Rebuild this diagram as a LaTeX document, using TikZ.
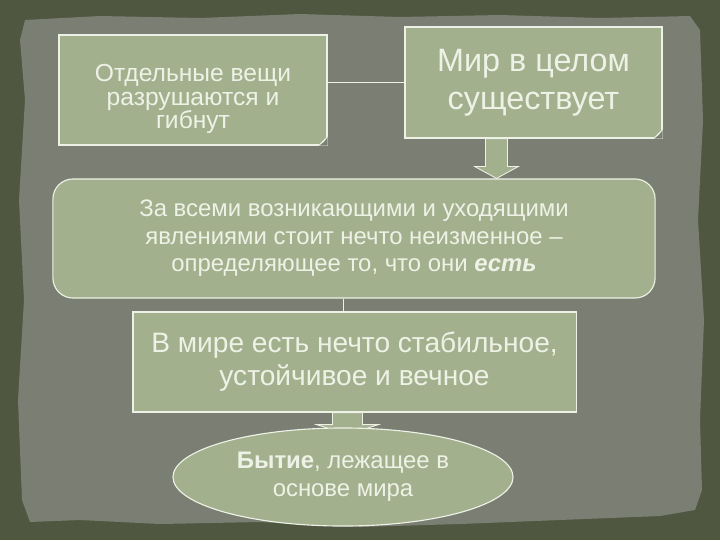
\documentclass[tikz,border=0pt]{standalone}
\usepackage{fontspec}
\setmainfont{Liberation Sans}
\usetikzlibrary{calc,shapes.geometric}
\definecolor{rahmen}{HTML}{4F5741}
\definecolor{papier}{HTML}{7B7E72}
\definecolor{kasten}{HTML}{A3B08E}
\definecolor{schrift}{HTML}{EEF2E6}
\tikzset{
  kastenbox/.style={draw=schrift, fill=kasten, line width=0.8pt, text=schrift,
    align=center, inner sep=0pt},
  verbinder/.style={draw=schrift, line width=0.6pt},
  blockpfeil/.style={draw=schrift, fill=kasten, line width=0.6pt},
}
\newcommand{\eselsohr}[1]{%
  \fill[papier] ($(#1.south east)+(-9,0)$) -- (#1.south east) -- ($(#1.south east)+(0,-9)$) -- cycle;
  \draw[schrift, line width=0.5pt] ($(#1.south east)+(-9,0)$) -- ($(#1.south east)+(0,-9)$)
    -- ($(#1.south east)+(-4,-4)$) -- cycle;}
\begin{document}
\begin{tikzpicture}[x=0.025cm, y=-0.025cm]
  % Hintergrund
  \fill[rahmen] (0,0) rectangle (720,540);
  \fill[papier] (25,20) -- (100,16) -- (200,18) -- (300,14) -- (400,17) -- (500,15)
    -- (600,18) -- (690,16) -- (700,30) -- (703,120) -- (698,220) -- (704,320)
    -- (700,420) -- (702,490) -- (695,510) -- (660,516) -- (560,520) -- (460,524)
    -- (360,527) -- (260,522) -- (160,524) -- (80,520) -- (30,522) -- (22,500)
    -- (18,400) -- (24,300) -- (19,200) -- (25,100) -- (20,40) -- cycle;
  \useasboundingbox (0,0) rectangle (720,540);
  % Kaesten
  \node[kastenbox, minimum width=6.7cm, minimum height=2.75cm] (einzeln) at (193,90) {};
  \node[text=schrift, align=center, inner sep=0pt,
    font=\fontsize{17.5}{17}\selectfont] (einzelntext) at ($(einzeln)+(0,9)$)
    {Отдельные вещи\\разрушаются и\\гибнут};
  \node[kastenbox, minimum width=6.425cm, minimum height=2.775cm,
    font=\fontsize{23}{27}\selectfont] (welt) at (533.5,82.5)
    {Мир в целом\\существует};
  \node[kastenbox, rounded corners=0.5cm, minimum width=15.05cm, minimum height=2.975cm,
    font=\fontsize{17}{19.5}\selectfont] (hinter) at (354,238.5)
    {За всеми возникающими и уходящими\\
     явлениями стоит нечто неизменное –\\
     определяющее то, что они \textbf{\textit{есть}}};
  \node[kastenbox, minimum width=11.075cm, minimum height=2.5cm,
    font=\fontsize{20}{23.5}\selectfont] (stabil) at (354.5,362)
    {В мире есть нечто стабильное,\\устойчивое и вечное};
  % Verbindungen
  \draw[verbinder] (einzeln.east |- welt) -- (welt.west);
  \draw[verbinder] (hinter.south -| 343,0) -- (stabil.north -| 343,0);
  \coordinate (p1) at ($(welt.south)+(-37,0)$);
  \coordinate (s1) at (hinter.north -| p1);
  \draw[blockpfeil] ($(p1)+(-11,0)$) -- ($(p1)+(11,0)$) -- ($(s1)+(11,-12)$)
    -- ($(s1)+(22,-12)$) -- (s1) -- ($(s1)+(-22,-12)$) -- ($(s1)+(-11,-12)$) -- cycle;
  \coordinate (p2) at ($(stabil.south)+(-7,0)$);
  \draw[blockpfeil] ($(p2)+(-15,0)$) -- ($(p2)+(15,0)$) -- ($(p2)+(15,12)$)
    -- ($(p2)+(31,12)$) -- ($(p2)+(0,22)$) -- ($(p2)+(-31,12)$) -- ($(p2)+(-15,12)$) -- cycle;
  % Ellipse
  \node[kastenbox, ellipse, minimum width=8.5cm, minimum height=2.45cm,
    font=\fontsize{17}{20}\selectfont] (sein) at (343,477)
    {\textbf{Бытие}, лежащее в\\основе мира};
  % Eselsohren
  \eselsohr{einzeln}
  \eselsohr{welt}
\end{tikzpicture}
\end{document}
